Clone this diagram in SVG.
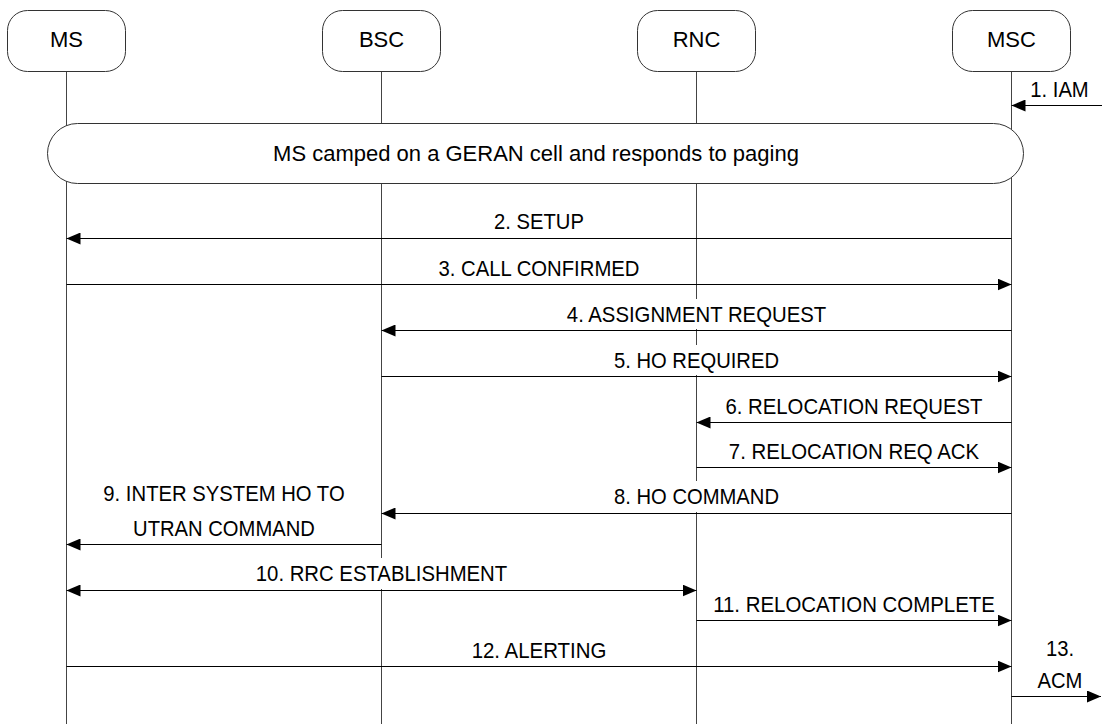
<svg xmlns="http://www.w3.org/2000/svg" width="1102" height="724" viewBox="0 0 1102 724">
<style>
text{font-family:"Liberation Sans",Arial,sans-serif;fill:#000;text-anchor:middle}
.node rect{fill:#fff;stroke:#333;stroke-width:1}
.node text{font-size:22px}
.life{stroke:#444;stroke-width:1;fill:none}
.msg line{stroke:#000;stroke-width:1;marker-end:url(#ah)}
.msg rect{fill:#fff;stroke:none}
.msg text{font-size:21.5px}
.bi{marker-start:url(#ah)}
</style>
<defs>
<marker id="ah" viewBox="0 0 14 12" refX="14" refY="6" markerWidth="14" markerHeight="12" markerUnits="userSpaceOnUse" orient="auto-start-reverse">
<path d="M0,0 L14,6 L0,12 z" fill="#000"/>
</marker>
</defs>
<rect width="1102" height="724" fill="#fff"/>

<g id="lifelines">
<line class="life" x1="66.5" y1="71" x2="66.5" y2="724"/>
<line class="life" x1="381.5" y1="71" x2="381.5" y2="724"/>
<line class="life" x1="696.5" y1="71" x2="696.5" y2="724"/>
<line class="life" x1="1011.5" y1="71" x2="1011.5" y2="724"/>
</g>

<g id="node-MS" class="node"><rect x="7.5" y="10.5" width="118" height="61" rx="20"/><text x="66.5" y="47">MS</text></g>
<g id="node-BSC" class="node"><rect x="322.5" y="10.5" width="118" height="61" rx="20"/><text x="381.5" y="47">BSC</text></g>
<g id="node-RNC" class="node"><rect x="637.5" y="10.5" width="118" height="61" rx="20"/><text x="696.5" y="47">RNC</text></g>
<g id="node-MSC" class="node"><rect x="952.5" y="10.5" width="118" height="61" rx="20"/><text x="1011.5" y="47">MSC</text></g>

<g id="note-camped">
<rect x="47.5" y="123.5" width="976" height="60" rx="30" fill="#fff" stroke="#333" stroke-width="1"/>
<text x="536" y="161" style="font-size:22px">MS camped on a GERAN cell and responds to paging</text>
</g>

<g id="connectors">
<g class="msg"><rect x="1026" y="74" width="68" height="30"/><text x="1059.5" y="97" textLength="58.4" lengthAdjust="spacingAndGlyphs">1. IAM</text><line x1="1102" y1="105.5" x2="1011.5" y2="105.5"/></g>
<g class="msg"><rect x="495" y="206" width="97" height="31"/><text x="539" y="229" textLength="89.8" lengthAdjust="spacingAndGlyphs">2. SETUP</text><line x1="1011.5" y1="238.5" x2="66.5" y2="238.5"/></g>
<g class="msg"><rect x="439" y="253" width="207" height="30"/><text x="539" y="276" textLength="200.9" lengthAdjust="spacingAndGlyphs">3. CALL CONFIRMED</text><line x1="66.5" y1="284.5" x2="1011.5" y2="284.5"/></g>
<g class="msg"><rect x="564" y="299" width="265" height="30"/><text x="696.5" y="322" textLength="259.3" lengthAdjust="spacingAndGlyphs">4. ASSIGNMENT REQUEST</text><line x1="1011.5" y1="330.5" x2="381.5" y2="330.5"/></g>
<g class="msg"><rect x="611" y="345" width="171" height="30"/><text x="696.5" y="368" textLength="165" lengthAdjust="spacingAndGlyphs">5. HO REQUIRED</text><line x1="381.5" y1="376.5" x2="1011.5" y2="376.5"/></g>
<g class="msg"><rect x="723" y="391" width="262" height="30"/><text x="854" y="414" textLength="257" lengthAdjust="spacingAndGlyphs">6. RELOCATION REQUEST</text><line x1="1011.5" y1="422.5" x2="696.5" y2="422.5"/></g>
<g class="msg"><rect x="726" y="436" width="256" height="30"/><text x="854" y="459" textLength="250.3" lengthAdjust="spacingAndGlyphs">7. RELOCATION REQ ACK</text><line x1="696.5" y1="467.5" x2="1011.5" y2="467.5"/></g>
<g class="msg"><rect x="611" y="481" width="171" height="31"/><text x="696.5" y="504" textLength="165" lengthAdjust="spacingAndGlyphs">8. HO COMMAND</text><line x1="1011.5" y1="513.5" x2="381.5" y2="513.5"/></g>
<g class="msg"><rect x="100" y="478" width="248" height="65"/><text x="224" y="501" textLength="241.3" lengthAdjust="spacingAndGlyphs">9. INTER SYSTEM HO TO</text><text x="224" y="536" textLength="181.8" lengthAdjust="spacingAndGlyphs">UTRAN COMMAND</text><line x1="381.5" y1="544.5" x2="66.5" y2="544.5"/></g>
<g class="msg"><rect x="254" y="558" width="256" height="31"/><text x="381.5" y="581" textLength="251.4" lengthAdjust="spacingAndGlyphs">10. RRC ESTABLISHMENT</text><line class="bi" x1="66.5" y1="590.5" x2="696.5" y2="590.5"/></g>
<g class="msg"><rect x="711" y="589" width="287" height="30"/><text x="854" y="612" textLength="281.7" lengthAdjust="spacingAndGlyphs">11. RELOCATION COMPLETE</text><line x1="696.5" y1="620.5" x2="1011.5" y2="620.5"/></g>
<g class="msg"><rect x="472" y="635" width="141" height="30"/><text x="539" y="658" textLength="134.7" lengthAdjust="spacingAndGlyphs">12. ALERTING</text><line x1="66.5" y1="666.5" x2="1011.5" y2="666.5"/></g>
<g class="msg"><rect x="1034" y="633" width="52" height="62"/><text x="1060" y="656" textLength="28.1" lengthAdjust="spacingAndGlyphs">13.</text><text x="1060" y="688" textLength="44.9" lengthAdjust="spacingAndGlyphs">ACM</text><line x1="1011.5" y1="696.5" x2="1101" y2="696.5"/></g>
</g>
</svg>
